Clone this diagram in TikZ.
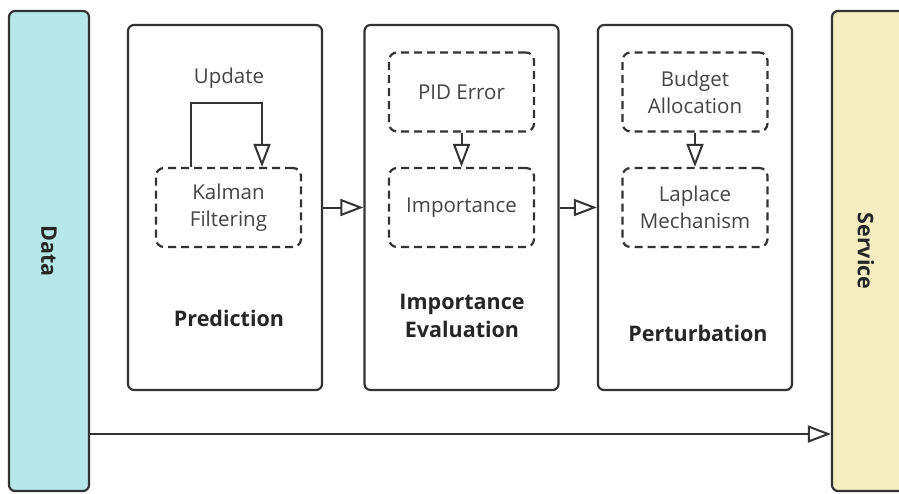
\documentclass[tikz,border=0pt]{standalone}
\usepackage{fontspec}
\setmainfont{Open Sans}
\usetikzlibrary{arrows.meta,positioning,calc}
\definecolor{edge}{HTML}{333333}
\definecolor{txt}{HTML}{444444}
\definecolor{datafill}{HTML}{B6E8EA}
\definecolor{servfill}{HTML}{F6EDC2}
\tikzset{
  stage/.style={draw=edge, line width=2.2pt, rounded corners=6pt, fill=white,
    minimum width=194pt, minimum height=365pt},
  bar/.style={draw=edge, line width=2.2pt, rounded corners=6pt,
    minimum width=80pt, minimum height=480pt},
  subbox/.style={draw=edge, line width=2.2pt, rounded corners=8pt,
    dash pattern=on 8pt off 5pt, minimum width=145pt, minimum height=79pt,
    align=center, text=txt, font=\fontsize{20.5}{27}\selectfont},
  stagelabel/.style={text=black!85, align=center,
    font=\fontsize{21.5}{27.5}\selectfont\bfseries},
  arr/.style={draw=edge, line width=2pt,
    -{Triangle[open, length=23pt, width=17pt, line width=2pt]}},
}
\begin{document}
\begin{tikzpicture}[x=1pt,y=-1pt]
\useasboundingbox (0,0) rectangle (899,493);

% side bars: data source and service
\node[bar, fill=datafill] (data) at (49,251) {};
\node[bar, fill=servfill, minimum width=90pt] (service) at (877,251) {};
\node[stagelabel, rotate=-90] at (data.center) {Data};
\node[stagelabel, rotate=-90] at (service.center -| 866,0) {Service};

% three processing stages
\node[stage] (pred) at (225,207.5) {};
\node[stage] (imp)  at (461.5,207.5) {};
\node[stage] (pert) at (695,207.5) {};

% inner steps
\node[subbox] (kalman)  at (228.5,207.5) {Kalman\\Filtering};
\node[subbox] (pid)     at (461.5,92)    {PID Error};
\node[subbox] (impo)    at (461.5,207.5) {Importance};
\node[subbox] (budget)  at (695,92)      {Budget\\Allocation};
\node[subbox] (laplace) at (695,207.5)   {Laplace\\Mechanism};

% stage titles
\node[stagelabel] at (229,318) {Prediction};
\node[stagelabel] at (462,316) {Importance\\Evaluation};
\node[stagelabel] at (698,333) {Perturbation};

% update loop on the filter
\node[text=txt, font=\fontsize{20.5}{27}\selectfont] (update) at (229,78) {Update};
\draw[arr] ([xshift=-37.5pt]kalman.north) -- ++(0,-64) -| ([xshift=33.5pt]kalman.north);

% flow inside stages
\draw[arr] (pid) -- (impo);
\draw[arr] (budget) -- (laplace);

% flow between stages
\draw[arr] (pred.east) -- (imp.west);
\draw[arr] (imp.east) -- (pert.west);

% direct path from data to service
\coordinate (bot) at (0,434);
\draw[arr] (data.east |- bot) -- (service.west |- bot);
\end{tikzpicture}
\end{document}
